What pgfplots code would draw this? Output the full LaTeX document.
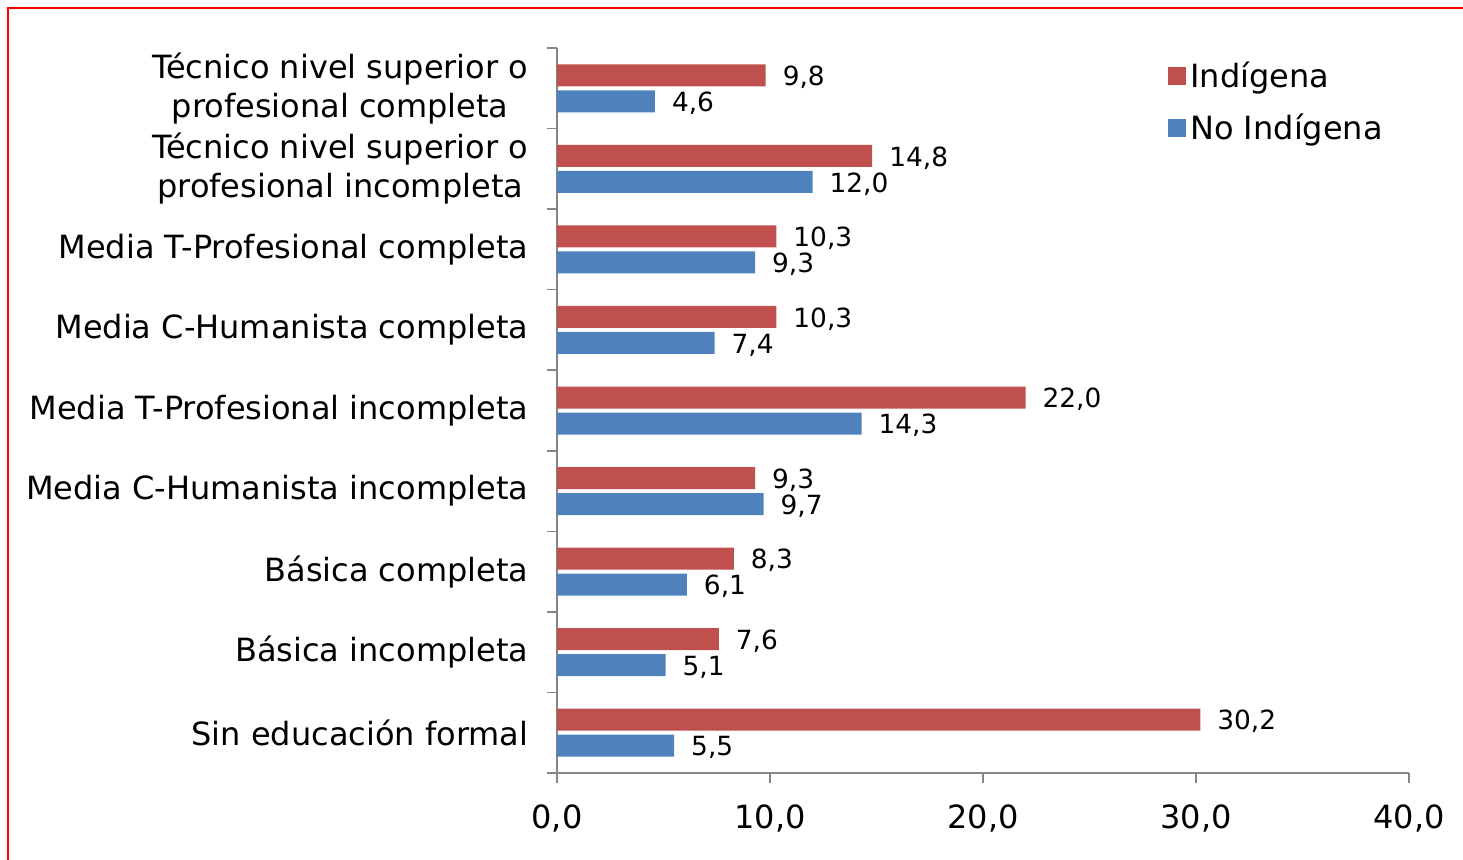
\documentclass[border=0pt]{standalone}
\usepackage{fontspec}
\setmainfont{DejaVu Sans}
\usepackage{pgfplots}
\pgfplotsset{compat=1.18}
\definecolor{cRed}{HTML}{C0504D}
\definecolor{cBlue}{HTML}{4F81BD}
\definecolor{axgray}{HTML}{868686}
\begin{document}
\begin{tikzpicture}
\path[use as bounding box] (0,0) rectangle (731.5pt,429.5pt);
\draw[red, line width=1pt] (4pt,-2pt) -- (4pt,425.5pt) -- (735pt,425.5pt);
\begin{axis}[
  at={(278.5pt,43pt)}, anchor=south west,
  scale only axis, width=426pt, height=362.5pt,
  xbar, bar width=11pt,
  xmin=0, xmax=40, ymin=-0.5, ymax=8.5,
  axis lines*=left,
  axis line style={axgray, line width=0.75pt},
  tick style={axgray, line width=0.75pt},
  tick align=outside, major tick length=4.8pt,
  xtick={0,10,20,30,40},
  xticklabels={{0,0},{10,0},{20,0},{30,0},{40,0}},
  ytick={-0.5,0.5,...,8.5},
  y tick label as interval,
  yticklabels={Sin educación formal, Básica incompleta, Básica completa,
    Media C-Humanista incompleta, Media T-Profesional incompleta,
    Media C-Humanista completa, Media T-Profesional completa,
    {Técnico nivel superior o\\profesional incompleta},
    {Técnico nivel superior o\\profesional completa}},
  yticklabel style={font=\fontsize{16}{19.5}\selectfont, align=center, xshift=-6pt},
  xticklabel style={font=\fontsize{16}{19.5}\selectfont, yshift=-7.5pt},
  point meta=x,
  nodes near coords={\pgfmathprintnumber[fixed,fixed zerofill,precision=1,use comma,assume math mode=true]{\pgfplotspointmeta}},
  every node near coord/.append style={font=\fontsize{13.2}{15}\selectfont, black, anchor=west, xshift=5pt, yshift=-1pt},
  legend style={at={(0.710,0.993)}, anchor=north west, draw=none, fill=none,
    font=\fontsize{16}{19.5}\selectfont, row sep=8pt,
    nodes={inner sep=2pt}},
  legend cell align=left,
]
\addplot[fill=cRed, draw=none, bar shift=6.5pt,
  legend image code/.code={\fill[cRed] (-3.5pt,-4.5pt) rectangle (5.5pt,4.5pt);}]
  coordinates {(30.2,0) (7.6,1) (8.3,2) (9.3,3) (22.0,4) (10.3,5) (10.3,6) (14.8,7) (9.8,8)};
\addlegendentry{Indígena}
\addplot[fill=cBlue, draw=none, bar shift=-6.5pt,
  legend image code/.code={\fill[cBlue] (-3.5pt,-4.5pt) rectangle (5.5pt,4.5pt);}]
  coordinates {(5.5,0) (5.1,1) (6.1,2) (9.7,3) (14.3,4) (7.4,5) (9.3,6) (12.0,7) (4.6,8)};
\addlegendentry{No Indígena}
\end{axis}
\end{tikzpicture}
\end{document}
